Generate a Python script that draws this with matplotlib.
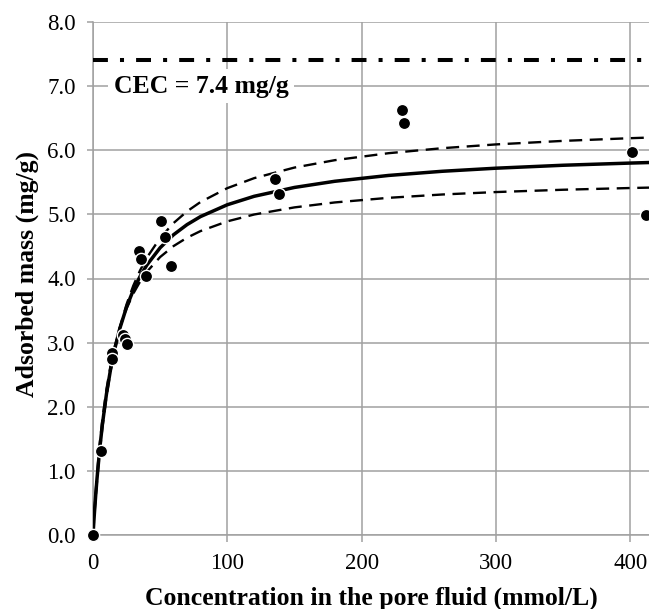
import numpy as np
import matplotlib.pyplot as plt


# measured points (mmol/L, mg/g)
CONC = [0, 6, 13.9, 14.4, 22.6, 23.8, 25.0, 34.5, 36.0, 39.5, 50.6, 53.4, 58.0,
        135.7, 138.7, 229.8, 231.8, 401.0, 411.8]
MASS = [0.0, 1.31, 2.84, 2.75, 3.12, 3.05, 2.98, 4.43, 4.31, 4.04, 4.90, 4.64, 4.20,
        5.55, 5.32, 6.63, 6.42, 5.98, 4.99]

# fitted isotherm and bounds
CURVE_C = [0, 1, 2, 3, 5, 7, 10, 13, 16, 20, 25, 30, 35, 40, 50, 60, 70, 80,
           100, 120, 150, 180, 220, 260, 300, 350, 400, 420]
FIT = [0.0, 0.326, 0.619, 0.883, 1.341, 1.725, 2.196, 2.574, 2.886, 3.223, 3.555,
       3.818, 4.031, 4.207, 4.480, 4.683, 4.840, 4.965, 5.150, 5.282, 5.420, 5.516,
       5.607, 5.672, 5.720, 5.766, 5.800, 5.812]
UPPER = [0.0, 0.307, 0.587, 0.842, 1.292, 1.675, 2.155, 2.548, 2.876, 3.237, 3.598,
         3.888, 4.124, 4.322, 4.632, 4.865, 5.047, 5.192, 5.409, 5.565, 5.730, 5.845,
         5.954, 6.032, 6.091, 6.146, 6.188, 6.202]
LOWER = [0.0, 0.357, 0.672, 0.951, 1.423, 1.809, 2.271, 2.632, 2.923, 3.233, 3.532,
         3.765, 3.950, 4.102, 4.335, 4.506, 4.636, 4.739, 4.891, 4.998, 5.109, 5.186,
         5.258, 5.310, 5.348, 5.384, 5.411, 5.420]

CEC = 7.4
X_TICKS = [0, 100, 200, 300, 400]
Y_TICKS = [0.0, 1.0, 2.0, 3.0, 4.0, 5.0, 6.0, 7.0, 8.0]

GRID = '#a0a0a0'
SERIF = 'Liberation Serif'


def main():
    fig = plt.figure(figsize=(6.49, 6.09), dpi=100)
    ax = fig.add_axes([93 / 649, 74 / 609, 556 / 649, 513 / 609])

    ax.plot(CURVE_C, FIT, color='black', lw=2.5, zorder=3)
    ax.plot(CURVE_C, UPPER, color='black', lw=1.7, ls=(0, (5.5, 3.2)), zorder=3)
    ax.plot(CURVE_C, LOWER, color='black', lw=1.7, ls=(0, (5.5, 3.2)), zorder=3)
    ax.axhline(CEC, color='black', lw=2.9, ls=(0, (3.7, 3.0, 1.0, 3.0)), zorder=3)

    ax.plot(CONC, MASS, 'o', color='black', ms=8.8, mec='white', mew=1.0,
            clip_on=False, zorder=5)

    ax.text(15.5, 7.0, 'CEC = 7.4 mg/g', fontfamily=SERIF, fontweight='bold',
            fontsize=18.5, va='center', ha='left', zorder=4,
            bbox=dict(facecolor='white', edgecolor='none', pad=4))

    ax.set_xlim(0, 414)
    ax.set_ylim(0, 8)
    ax.set_xticks(X_TICKS)
    ax.set_yticks(Y_TICKS)
    ax.set_yticklabels(['{:.1f}'.format(v) for v in Y_TICKS])
    ax.grid(True, color=GRID, lw=1.1, zorder=0)
    ax.set_axisbelow(True)

    for side in ['top', 'right']:
        ax.spines[side].set_visible(False)
    for side in ['left', 'bottom']:
        ax.spines[side].set_color(GRID)
        ax.spines[side].set_linewidth(1.1)

    ax.tick_params(axis='both', colors=GRID, labelcolor='black', width=1.1,
                   labelsize=16.5)
    ax.tick_params(axis='x', length=5, pad=8)
    ax.tick_params(axis='y', length=4.5, pad=8)
    for lab in ax.get_xticklabels() + ax.get_yticklabels():
        lab.set_fontfamily(SERIF)

    ax.set_xlabel('Concentration in the pore fluid (mmol/L)', fontfamily=SERIF,
                  fontweight='bold', fontsize=18.5, va='center')
    ax.set_ylabel('Adsorbed mass (mg/g)', fontfamily=SERIF, fontweight='bold',
                  fontsize=18.5, va='center')
    ax.xaxis.set_label_coords(0.5, -0.124)
    ax.yaxis.set_label_coords(-0.119, 0.509)

    fig.savefig('out.png', dpi=100)


if __name__ == '__main__':
    main()
